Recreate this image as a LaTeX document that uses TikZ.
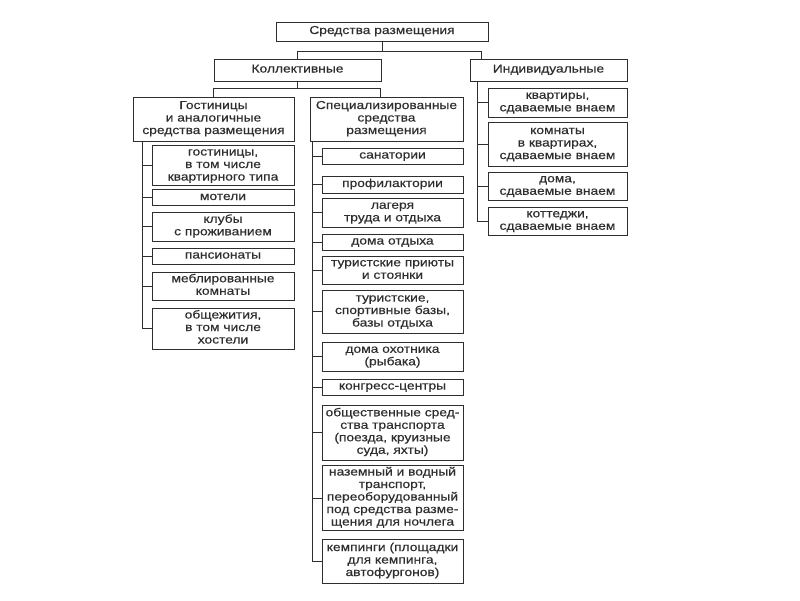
\documentclass[tikz,border=0pt]{standalone}
\usepackage{fontspec}
\setmainfont[FakeStretch=1.2, FakeBold=0.35]{Liberation Sans}
\usepackage{tikz}
\usetikzlibrary{positioning}
\usetikzlibrary{calc}

\definecolor{ink}{HTML}{2E2E2E}

% stacked lines with equal struts, so every box is centred alike
\newcommand\boxtext[1]{\begin{tabular}{@{}c@{}}#1\end{tabular}}

\tikzset{
	box/.style={draw=ink, line width=1pt, text=ink,
		inner xsep=0.5pt, inner ysep=1.5pt, font=\fontsize{11.5}{12.5}\selectfont},
	sz/.style 2 args={minimum width=#1pt, minimum height=#2pt},
	link/.style={draw=ink, line width=0.9pt},
}

\begin{document}
\begin{tikzpicture}[x=1pt, y=-1pt]

	% ------------------------------------------------
	% Ensure the dimensions of graphic are appropriate
	\useasboundingbox[fill=white] (0,0) rectangle (800,600);

	% ------------------------------------------------
	% Upper levels
	\node[box, sz={212}{19}] (Top)  at (382,31.5) {\boxtext{Средства размещения}};
	\node[box, sz={167}{22}] (Koll) at (297.5,70) {\boxtext{Коллективные}};
	\node[box, sz={157}{22}] (Ind)  at (548.5,70) {\boxtext{Индивидуальные}};

	\node[box, sz={161}{44}] (Gost) at (213.5,119) {\boxtext{Гостиницы\\и аналогичные\\средства размещения}};
	\node[box, sz={153}{44}] (Spec) at (386.5,119) {\boxtext{Специализированные\\средства\\размещения}};

	% ----------------
	% Hotels and the like
	\node[box, sz={142}{38}] (G1) at (223,165.5) {\boxtext{гостиницы,\\в том числе\\квартирного типа}};
	\node[box, sz={142}{15}] (G2) at (223,197.5) {\boxtext{мотели}};
	\node[box, sz={142}{29}] (G3) at (223,226.5) {\boxtext{клубы\\с проживанием}};
	\node[box, sz={142}{16}] (G4) at (223,256)   {\boxtext{пансионаты}};
	\node[box, sz={142}{28}] (G5) at (223,286)   {\boxtext{меблированные\\комнаты}};
	\node[box, sz={142}{41}] (G6) at (223,328.5) {\boxtext{общежития,\\в том числе\\хостели}};

	% ----------------
	% Specialised
	\node[box, sz={141}{16}] (S1)  at (392.5,156)   {\boxtext{санатории}};
	\node[box, sz={141}{17}] (S2)  at (392.5,184.5) {\boxtext{профилактории}};
	\node[box, sz={141}{29}] (S3)  at (392.5,212.5) {\boxtext{лагеря\\труда и отдыха}};
	\node[box, sz={141}{16}] (S4)  at (392.5,242)   {\boxtext{дома отдыха}};
	\node[box, sz={141}{26}] (S5)  at (392.5,270)   {\boxtext{туристские приюты\\и стоянки}};
	\node[box, sz={141}{43}] (S6)  at (392.5,311.5) {\boxtext{туристские,\\спортивные базы,\\базы отдыха}};
	\node[box, sz={141}{29}] (S7)  at (392.5,356.5) {\boxtext{дома охотника\\(рыбака)}};
	\node[box, sz={141}{16}] (S8)  at (392.5,387)   {\boxtext{конгресс-центры}};
	\node[box, sz={141}{55}] (S9)  at (392.5,432.5) {\boxtext{общественные сред-\\ства транспорта\\(поезда, круизные\\суда, яхты)}};
	\node[box, sz={141}{64}] (S10) at (392.5,498)   {\boxtext{наземный и водный\\транспорт,\\переоборудованный\\под средства разме-\\щения для ночлега}};
	\node[box, sz={141}{44}] (S11) at (392.5,561)   {\boxtext{кемпинги (площадки\\для кемпинга,\\автофургонов)}};

	% ----------------
	% Individual
	\node[box, sz={139}{29}] (I1) at (557.5,102.5) {\boxtext{квартиры,\\сдаваемые внаем}};
	\node[box, sz={139}{44}] (I2) at (557.5,144)   {\boxtext{комнаты\\в квартирах,\\сдаваемые внаем}};
	\node[box, sz={139}{28}] (I3) at (557.5,186)   {\boxtext{дома,\\сдаваемые внаем}};
	\node[box, sz={139}{28}] (I4) at (557.5,221)   {\boxtext{коттеджи,\\сдаваемые внаем}};

	% ------------------------------------------------
	% Relevant coordinates
	\path (Top.south)       +(0,10) coordinate (TopBar);
	\path (Ind.north west)  +(12,0) coordinate (IndTop);
	\path (Koll.south)      +(0,7)  coordinate (KollBar);
	\path (Spec.north west) +(71,0) coordinate (SpecTop);

	\path (Gost.south west) +(10,0) coordinate (GostBus);
	\path (Spec.south west) +(3,0)  coordinate (SpecBus);
	\path (Ind.south west)  +(8,0)  coordinate (IndBus);

	%%%%%%%%%%%%%%%%%%%%%%%%%%%%%%%%%%%%%%%%%
	%Connectors
	\draw[link] (Top.south) -- (TopBar);
	\draw[link] (Koll.north) |- (TopBar) -| (IndTop);
	\draw[link] (Koll.south) -- (KollBar);
	\draw[link] (Gost.north) |- (KollBar) -| (SpecTop);

	\draw[link] (GostBus) |- (G6.west);
	\foreach \n in {G1,G2,G3,G4,G5}
		\draw[link] (GostBus |- \n.west) -- (\n.west);

	\draw[link] (SpecBus) |- (S11.west);
	\foreach \n in {S1,S2,S3,S4,S5,S6,S7,S8,S9,S10}
		\draw[link] (SpecBus |- \n.west) -- (\n.west);

	\draw[link] (IndBus) |- (I4.west);
	\foreach \n in {I1,I2,I3}
		\draw[link] (IndBus |- \n.west) -- (\n.west);

\end{tikzpicture}
\end{document}
